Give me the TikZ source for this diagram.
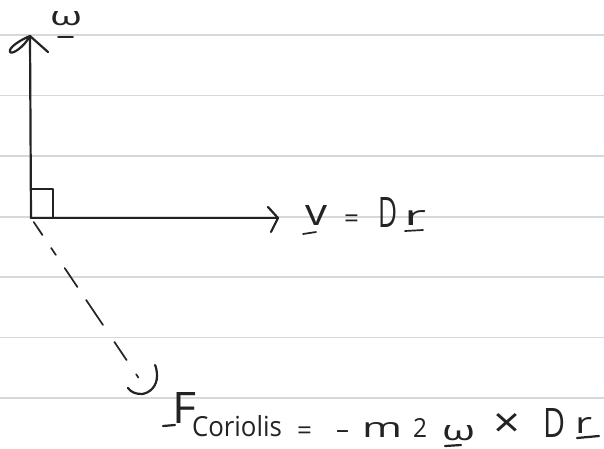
\documentclass[tikz,border=0pt]{standalone}
\usepackage{fontspec}
\usepackage{graphicx}
\setmainfont{Open Sans}
\usetikzlibrary{calc}
\definecolor{rulegray}{RGB}{212,217,221}
\definecolor{pencil}{RGB}{35,35,35}
\newcommand{\glyphbox}[3]{\resizebox{#1pt}{#2pt}{#3}}
\begin{document}
\begin{tikzpicture}[x=1pt,y=-1pt,
  ink/.style={draw=pencil,line width=2.2pt,line cap=round,line join=round},
  thinink/.style={ink,line width=1.7pt},
  paperline/.style={draw=rulegray,line width=1.8pt},
  glyph/.style={inner sep=0pt,outer sep=0pt,anchor=base west,text=pencil},
  sign/.style={glyph,font=\fontsize{26}{30}\selectfont},
]
\useasboundingbox (0,0) rectangle (604,448);
\fill[white] (0,0) rectangle (604,448);
\foreach \yy in {35,95.5,156,217,277,337.5,398}
  \draw[paperline] (0,\yy) -- (604,\yy);

% key points
\coordinate (O) at (31,218);
\coordinate (W) at (30,36);
\coordinate (V) at (278,218);
\coordinate (E) at (140,380);
\coordinate (Ftip) at (142,394);

% omega arrow (vertical)
\draw[ink] (O) -- (W);
\draw[ink] (W) -- (48,52);
\draw[ink] (W) .. controls (20,40) and (8,48) .. (10,52) .. controls (12,55) and (24,47) .. (W);

% v arrow (horizontal)
\draw[ink] (O) -- (V);
\draw[ink] (268,207) -- (V) -- (271,232);

% right-angle mark
\draw[thinink] (31,189) -| (53,218);

% dashed Coriolis direction
\foreach \a/\b in {0.025/0.105,0.185/0.228,0.309/0.426,0.506/0.66,0.765/0.877,0.965/0.985}
  \draw[thinink] ($(O)!\a!(E)$) -- ($(O)!\b!(E)$);
\draw[ink] (128,388) .. controls (131,392) and (135,394) .. (Ftip)
  .. controls (150,393) and (157,386) .. (157,376)
  .. controls (157,371) and (156,367) .. (155,365);

% omega label
\node[glyph] (wlab) at (50,25) {\glyphbox{32}{14}{ω}};
\draw[thinink] (58,37) -- (73,37);

% v = Dr label
\node[glyph] (vlab) at (305,225) {\glyphbox{22}{20}{v}};
\draw[thinink] (303,234) -- (316,232);
\node[sign] (veq) at (344,227) {=};
\node[glyph] (vD) at (378,227) {\glyphbox{19}{30}{D}};
\node[glyph] (vr) at (404,225) {\glyphbox{22}{15}{r}};
\draw[thinink] (405,231) -- (423,230);

% Coriolis formula
\node[glyph] (F) at (172,423) {\glyphbox{24}{31}{F}};
\draw[ink] (163,426) -- (175,425);
\node[glyph] (sub) at (192,436) {\glyphbox{90}{21}{Coriolis}};
\node[sign] (eq) at (297,439) {=};
\node[sign] (minus) at (336,438) {--};
\node[glyph] (m) at (362,437) {\glyphbox{40}{15}{m}};
\node[glyph] (two) at (413,437) {\glyphbox{14}{19}{2}};
\node[glyph] (om) at (442,440) {\glyphbox{33}{15}{ω}};
\draw[ink] (445,446) -- (461,445);
\node[glyph] (times) at (493,437) {\glyphbox{27}{24}{×}};
\node[glyph] (D) at (543,437) {\glyphbox{22}{29}{D}};
\node[glyph] (r) at (575,433) {\glyphbox{17}{16}{r}};
\draw[ink] (577,438) -- (599,436);
\end{tikzpicture}
\end{document}
